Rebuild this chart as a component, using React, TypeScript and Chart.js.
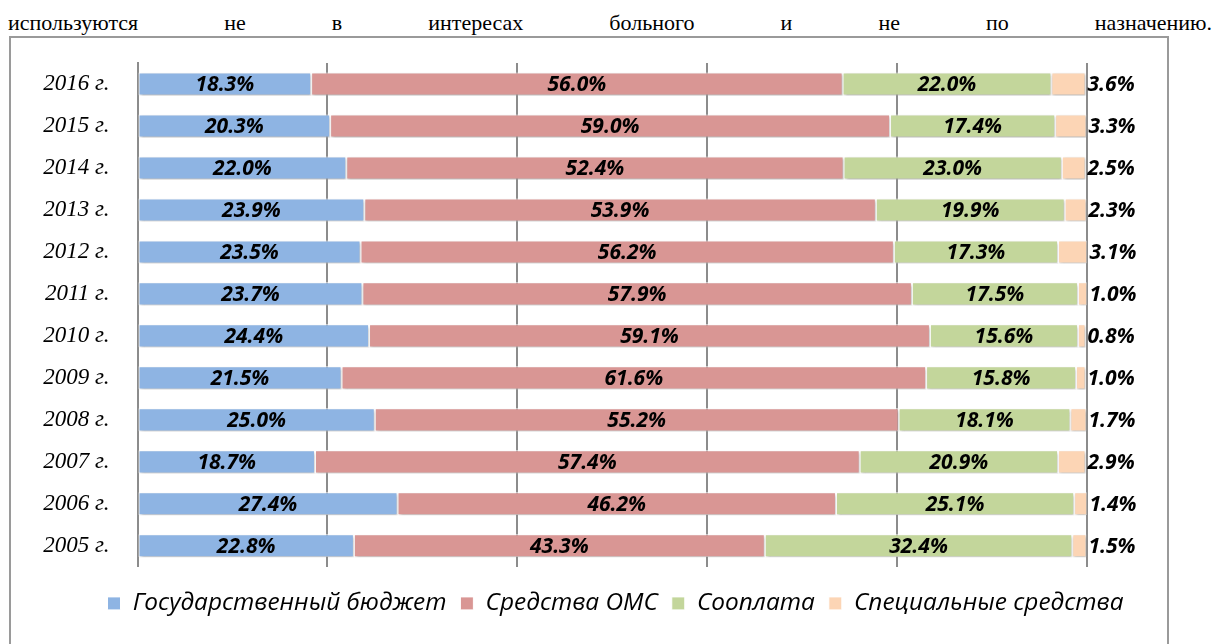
import React, { useEffect, useRef } from "react";
import { Chart, registerables } from "chart.js";

Chart.register(...registerables);

const introText = "используются не в интересах больного и не по назначению.";

const years = [
  "2016 г.", "2015 г.", "2014 г.", "2013 г.", "2012 г.", "2011 г.",
  "2010 г.", "2009 г.", "2008 г.", "2007 г.", "2006 г.", "2005 г.",
];

const seriesNames = [
  "Государственный бюджет",
  "Средства ОМС",
  "Сооплата",
  "Специальные средства",
];

const stateBudget = [18.3, 20.3, 22.0, 23.9, 23.5, 23.7, 24.4, 21.5, 25.0, 18.7, 27.4, 22.8];
const omsFunds = [56.0, 59.0, 52.4, 53.9, 56.2, 57.9, 59.1, 61.6, 55.2, 57.4, 46.2, 43.3];
const coPayment = [22.0, 17.4, 23.0, 19.9, 17.3, 17.5, 15.6, 15.8, 18.1, 20.9, 25.1, 32.4];
const specialFunds = [3.6, 3.3, 2.5, 2.3, 3.1, 1.0, 0.8, 1.0, 1.7, 2.9, 1.4, 1.5];

const xTicks = [0, 20, 40, 60, 80, 100];

const colors = ["#8EB4E3", "#D99694", "#C3D69B", "#FCD5B5"];

const LABEL_FONT = 'italic bold 21px "Open Sans"';

export default function App() {
  const canvasRef = useRef<HTMLCanvasElement>(null);

  useEffect(() => {
    if (!canvasRef.current) return;

    const shadowPlugin = {
      id: "barShadow",
      beforeDatasetsDraw(chart: any) {
        const c = chart.ctx;
        c.save();
        c.shadowColor = "rgba(0,0,0,0.28)";
        c.shadowBlur = 3;
        c.shadowOffsetX = 1;
        c.shadowOffsetY = 2;
      },
      afterDatasetsDraw(chart: any) {
        chart.ctx.restore();
      },
    };

    const labelPlugin = {
      id: "valueLabels",
      afterDatasetsDraw(chart: any) {
        const c = chart.ctx;
        c.save();
        c.font = LABEL_FONT;
        c.fillStyle = "#000";
        c.textBaseline = "middle";
        chart.data.datasets.forEach((ds: any, di: number) => {
          const meta = chart.getDatasetMeta(di);
          meta.data.forEach((bar: any, i: number) => {
            const v = ds.data[i] as number;
            const text = v.toFixed(1) + "%";
            const p = bar.getProps(["x", "y", "base"], true);
            if (di === 3) {
              c.textAlign = "left";
              c.fillText(text, p.x + 2, p.y + 1);
            } else {
              c.textAlign = "center";
              c.fillText(text, (p.x + p.base) / 2, p.y + 1);
            }
          });
        });
        c.restore();
      },
    };

    const data = [stateBudget, omsFunds, coPayment, specialFunds];

    const chart = new Chart(canvasRef.current, {
      type: "bar",
      data: {
        labels: years,
        datasets: data.map((d, i) => ({
          label: seriesNames[i],
          data: d,
          backgroundColor: colors[i],
          borderColor: "#ffffff",
          borderWidth: 1,
          borderSkipped: false,
          categoryPercentage: 1,
          barPercentage: 0.55,
        })),
      },
      options: {
        indexAxis: "y",
        animation: false,
        responsive: false,
        maintainAspectRatio: false,
        layout: { padding: { top: 26, bottom: 11.4, left: 0, right: 0 } },
        scales: {
          x: {
            stacked: true,
            min: 0,
            max: 100,
            afterBuildTicks: (s: any) => {
              s.ticks = xTicks.map((v) => ({ value: v }));
            },
            ticks: { display: false },
            grid: { color: "#8c8c8c", lineWidth: 2, drawTicks: false },
            border: { display: false },
            afterFit: (s: any) => {
              s.height = 10.4;
              s.paddingLeft = 0;
              s.paddingRight = 0;
            },
          },
          y: {
            stacked: true,
            grid: { display: false, drawTicks: false },
            border: { display: true, color: "#8c8c8c", width: 2 },
            ticks: {
              padding: 28,
              color: "#000",
              font: { family: '"Liberation Serif"', size: 23, style: "italic" },
            },
            afterFit: (s: any) => {
              s.width = 126.5;
              s.paddingTop = 0;
              s.paddingBottom = 0;
            },
          },
          yRight: {
            type: "category",
            position: "right",
            grid: { display: false, drawTicks: false },
            border: { display: false },
            ticks: { display: false },
            afterFit: (s: any) => {
              s.width = 133.5;
              s.paddingTop = 0;
              s.paddingBottom = 0;
            },
          },
        },
        plugins: {
          legend: {
            position: "bottom",
            align: "center",
            labels: {
              color: "#000",
              boxWidth: 13,
              boxHeight: 13,
              padding: 14,
              font: { family: '"Open Sans"', size: 24.4, style: "italic" },
            },
          },
          tooltip: { enabled: false },
        },
      },
      plugins: [shadowPlugin, labelPlugin],
    } as any);

    return () => chart.destroy();
  }, []);

  return (
    <div>
      <div
        style={{
          font: '22px "Liberation Serif"',
          lineHeight: "30px",
          textAlign: "justify",
          textAlignLast: "justify",
          color: "#000",
          whiteSpace: "normal",
        }}
      >
        {introText}
      </div>
      <div
        style={{
          position: "fixed",
          left: 9,
          top: 36,
          width: 1160,
          height: 700,
          border: "2px solid #9a9a9a",
          boxSizing: "border-box",
        }}
      >
        <canvas
          ref={canvasRef}
          width={1209}
          height={600}
          style={{ position: "absolute", left: 0, top: -1, width: 1209, height: 600 }}
        />
      </div>
    </div>
  );
}
